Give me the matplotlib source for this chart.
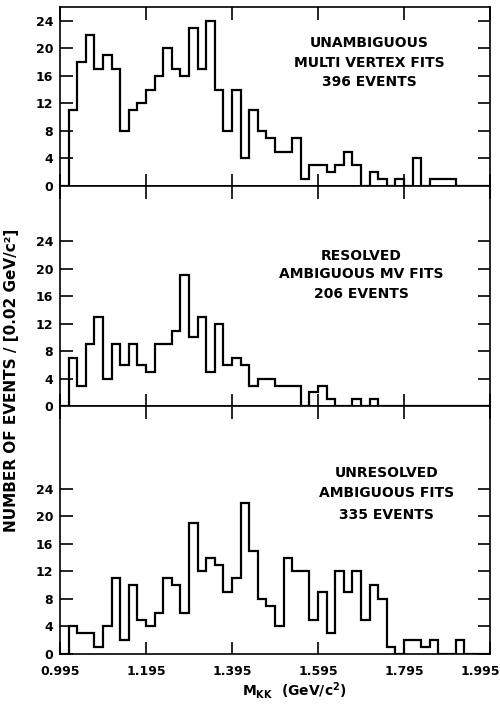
import numpy as np
import matplotlib
matplotlib.use("Agg")
import matplotlib.pyplot as plt
from matplotlib.transforms import ScaledTranslation

# bins of 0.02 GeV/c^2 starting at 0.995
bin_lo = 0.995
bin_w = 0.02
n_bins = 50

# counts per bin (trailing bins are empty)
unambiguous = [0, 11, 18, 22, 17, 19, 17, 8, 11, 12, 14, 16, 20, 17, 16, 23, 17, 24, 14, 8,
               14, 4, 11, 8, 7, 5, 5, 7, 1, 3, 3, 2, 3, 5, 3, 0, 2, 1, 0, 1,
               0, 4, 0, 1, 1, 1]
resolved = [0, 7, 3, 9, 13, 4, 9, 6, 9, 6, 5, 9, 9, 11, 19, 10, 13, 5, 12, 6,
            7, 6, 3, 4, 4, 3, 3, 3, 0, 2, 3, 1, 0, 0, 1, 0, 1]
unresolved = [0, 4, 3, 3, 1, 4, 11, 2, 10, 5, 4, 6, 11, 10, 6, 19, 12, 14, 13, 9,
              11, 22, 15, 8, 7, 4, 14, 12, 12, 5, 9, 3, 12, 9, 12, 5, 10, 8, 1, 0,
              2, 2, 1, 2, 0, 0, 2]

labels = [["UNAMBIGUOUS", "MULTI VERTEX FITS", "396 EVENTS"],
          ["RESOLVED", "AMBIGUOUS MV FITS", "206 EVENTS"],
          ["UNRESOLVED", "AMBIGUOUS FITS", "335 EVENTS"]]
ytops = [26, 32, 36]
yticks = [0, 4, 8, 12, 16, 20, 24]
xticks = [0.995, 1.195, 1.395, 1.595, 1.795, 1.995]

edges = bin_lo + bin_w * np.arange(n_bins + 1)

def pad(c):
    return np.array(c + [0] * (n_bins - len(c)), dtype=float)

plt.rcParams["font.family"] = "DejaVu Sans"
plt.rcParams["font.weight"] = "bold"

fig = plt.figure(figsize=(5.0, 7.05), dpi=100)
gs = fig.add_gridspec(3, 1, height_ratios=ytops, hspace=0,
                      left=0.12, right=0.98, top=0.990, bottom=0.0723)

# text positions (axes fraction x, y of each line)
txt_pos = [(0.72, [0.80, 0.69, 0.58]),
           (0.70, [0.68, 0.60, 0.51]),
           (0.76, [0.73, 0.65, 0.56])]

for i, (counts, lab, ytop) in enumerate(zip([unambiguous, resolved, unresolved], labels, ytops)):
    ax = fig.add_subplot(gs[i])
    ax.stairs(pad(counts), edges, color="black", lw=1.6)
    ax.set_xlim(0.995, 1.995)
    ax.set_ylim(0, ytop)
    ax.set_xticks(xticks)
    ax.set_yticks(yticks)
    ax.tick_params(axis="both", direction="in", length=9, width=1.2,
                   top=True, right=True, labelsize=9, pad=5)
    ax.tick_params(axis="x", pad=8)
    if i < 2:
        ax.tick_params(axis="x", labelbottom=False)
    else:
        ax.set_xticklabels([f"{t:.3f}" for t in xticks], fontweight="bold")
        last = ax.get_xticklabels()[-1]
        last.set_transform(last.get_transform() + ScaledTranslation(-0.10, 0, fig.dpi_scale_trans))
    for lbl in ax.get_yticklabels():
        lbl.set_fontweight("bold")
    for s in ax.spines.values():
        s.set_linewidth(1.2)
    xc, ys = txt_pos[i]
    for line, yy in zip(lab, ys):
        ax.text(xc, yy, line, transform=ax.transAxes, ha="center", va="center",
                fontsize=10, fontweight="bold")

fig.text(0.588, 0.021, r"M$_{\mathbf{KK}}$  (GeV/c$^{\mathbf{2}}$)", ha="center", va="center",
         fontsize=10, fontweight="bold")
fig.text(0.024, 0.461, "NUMBER OF EVENTS / [0.02 GeV/c²]", rotation=90,
         ha="center", va="center", fontsize=11, fontweight="bold")

fig.savefig("out.png", dpi=100)
